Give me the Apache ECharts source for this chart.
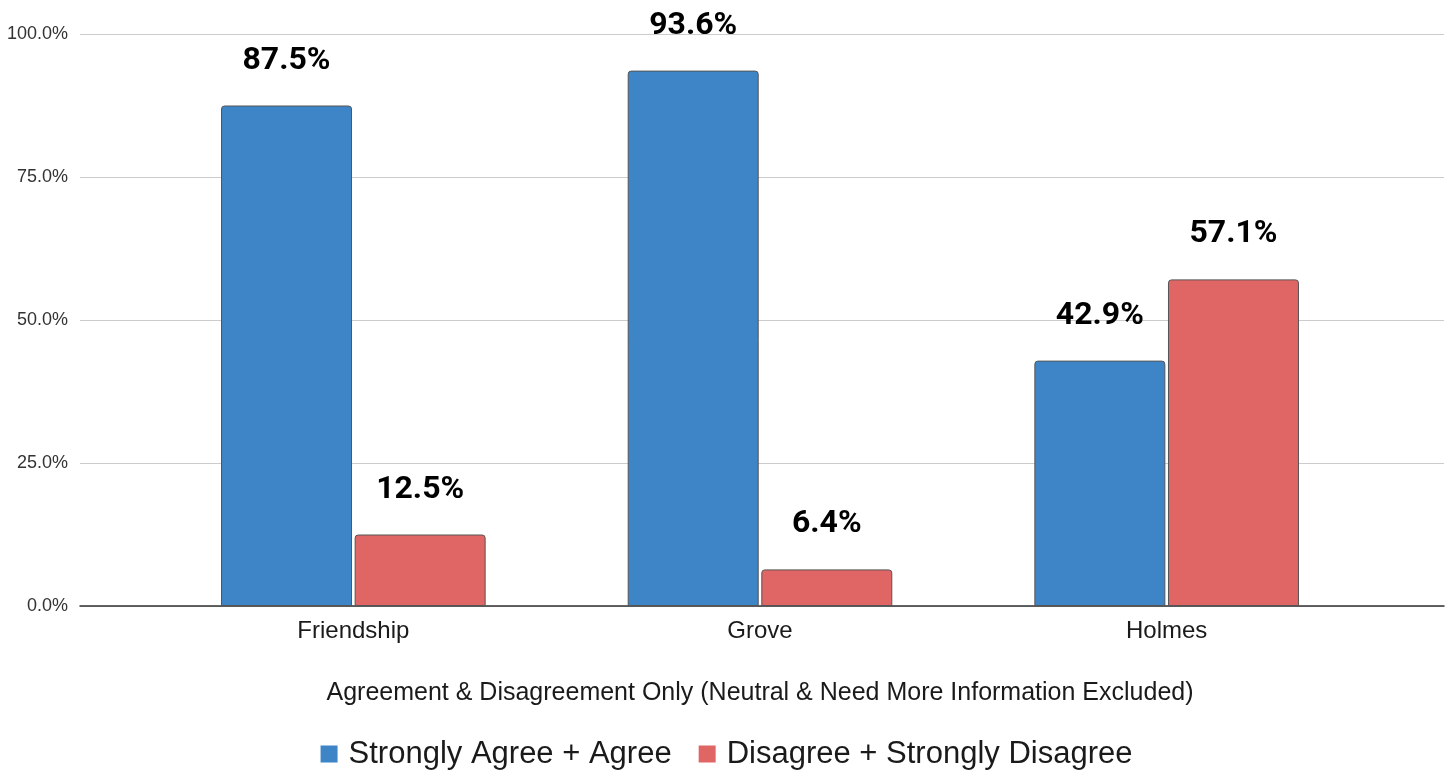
<!DOCTYPE html>
<html style="height: 100%">
<head>
    <meta charset="utf-8">
    <title>Agreement chart</title>
    <script src="https://cdn.jsdelivr.net/npm/echarts@6/dist/echarts.min.js"></script>
    <style>
        body { margin: 0; height: 100%; background: #fff; }
        #chart { width: 1453px; height: 772px; }
    </style>
</head>
<body>
<div id="chart"></div>
<script>
    const categories = ['Friendship', 'Grove', 'Holmes'];
    const agreeValues = [0.875, 0.936, 0.429];
    const disagreeValues = [0.125, 0.064, 0.571];
    const seriesNames = ['Strongly Agree + Agree', 'Disagree + Strongly Disagree'];
    const axisTitle = 'Agreement & Disagreement Only (Neutral & Need More Information Excluded)';

    const FONT = 'Liberation Sans';
    const pct = v => (v * 100).toFixed(1) + '%';

    const barLabel = {
        show: true,
        position: 'top',
        distance: 29,
        fontFamily: 'Roboto',
        fontWeight: 'bold',
        fontSize: 32,
        color: '#000',
        formatter: p => pct(p.value)
    };

    const chart = echarts.init(document.getElementById('chart'));
    chart.setOption({
        animation: false,
        textStyle: { fontFamily: FONT },
        legend: {
            top: 736,
            left: 'center',
            padding: 0,
            icon: 'rect',
            itemWidth: 17,
            itemHeight: 17,
            itemGap: 27,
            itemStyle: { borderWidth: 0 },
            textStyle: { fontFamily: FONT, fontSize: 31, lineHeight: 36, color: '#1a1a1a', padding: [0, 0, 0, 6] },
            data: seriesNames
        },
        grid: [
            // background grid: y labels, gridlines, zero line
            { left: 80, right: 9, top: 34, bottom: 166 },
            // bar grid
            { left: 150, right: 83, top: 34, bottom: 166 }
        ],
        xAxis: [
            {
                gridIndex: 0, type: 'value', min: 0, max: 1,
                axisLine: { show: true, lineStyle: { color: '#333', width: 1.5 } },
                axisTick: { show: false }, axisLabel: { show: false }, splitLine: { show: false }
            },
            {
                gridIndex: 1, type: 'category', data: categories,
                axisLine: { show: false }, axisTick: { show: false },
                axisLabel: { margin: 13, fontFamily: FONT, fontSize: 24, color: '#1a1a1a' },
                name: axisTitle, nameLocation: 'middle', nameGap: 75,
                nameTextStyle: { fontFamily: FONT, fontSize: 25, color: '#1a1a1a' }
            }
        ],
        yAxis: [
            {
                gridIndex: 0, type: 'value', min: 0, max: 1, interval: 0.25,
                axisLine: { show: false }, axisTick: { show: false },
                axisLabel: { margin: 12, fontFamily: FONT, fontSize: 18, color: '#333', formatter: v => pct(v) },
                splitLine: { lineStyle: { color: '#cccccc', width: 1 } }
            },
            {
                gridIndex: 1, type: 'value', min: 0, max: 1, interval: 0.25, show: false,
                splitLine: { show: false }
            }
        ],
        series: [
            {
                name: seriesNames[0], type: 'bar', xAxisIndex: 1, yAxisIndex: 1,
                data: agreeValues, barWidth: 131, barGap: '2%',
                itemStyle: { color: '#3d85c6', borderColor: '#555', borderWidth: 1, borderRadius: [3, 3, 0, 0] },
                label: barLabel
            },
            {
                name: seriesNames[1], type: 'bar', xAxisIndex: 1, yAxisIndex: 1,
                data: disagreeValues, barWidth: 131,
                itemStyle: { color: '#e06666', borderColor: '#555', borderWidth: 1, borderRadius: [3, 3, 0, 0] },
                label: barLabel
            }
        ]
    });
</script>
</body>
</html>
